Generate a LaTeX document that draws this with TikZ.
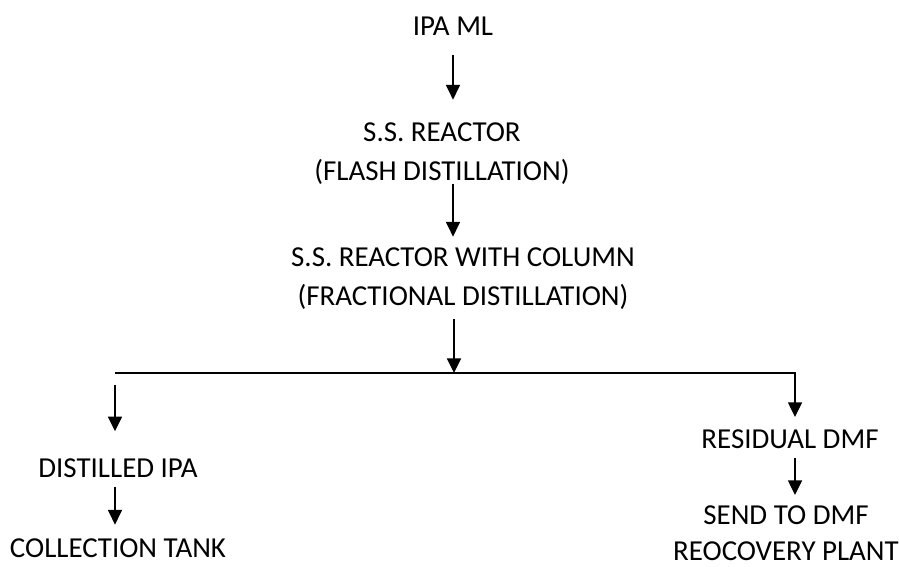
\documentclass[tikz,border=0pt]{standalone}
\usepackage{fontspec}
\setmainfont{Carlito}
\usetikzlibrary{arrows.meta}

\begin{document}
\begin{tikzpicture}[x=0.75pt,y=-0.75pt,
	txt/.style={inner sep=0pt,anchor=base,align=center,font=\fontsize{21.7}{29}\selectfont},
	flow/.style={line width=1.2pt,-{Triangle[length=11pt,width=10.5pt]}}]
				\useasboundingbox (0,0) rectangle (899,567);
				\coordinate (lft) at (115,373);%left branch
				\coordinate (rgt) at (795,373);%right branch
				\coordinate (mid) at (454,373);%junction
				
				\node[txt] (ipa) at (453,36) {IPA ML};
				\node[txt] (flash) at (442,180) {S.S. REACTOR\\(FLASH DISTILLATION)};
				\node[txt] (frac) at (463,305) {S.S. REACTOR WITH COLUMN\\(FRACTIONAL DISTILLATION)};
				\node[txt] (dist) at (118,477) {DISTILLED IPA};
				\node[txt] (coll) at (118,557) {COLLECTION TANK};
				\node[txt] (resid) at (790,448) {RESIDUAL DMF};
				\node[txt] (send) at (786,560) {SEND TO DMF\\[-2pt]REOCOVERY PLANT};
				
				\draw[flow,shorten <=14pt,shorten >=17pt] (ipa.south) to[] (ipa.south |- flash.north);
				\draw[flow,shorten <=0pt,shorten >=8pt] (ipa.south |- flash.south) to[] (ipa.south |- frac.north);
				\draw[flow,shorten <=7.5pt] (mid |- frac.south) to[] (mid);
				\draw[flow,shorten >=9pt] (lft) -- (rgt) -- (rgt |- resid.north);
				\draw[flow,shorten <=9pt,shorten >=20pt] (lft) to[] (lft |- dist.north);
				\draw[flow,shorten <=7pt,shorten >=10pt] (lft |- dist.south) to[] (lft |- coll.north);
				\draw[flow,shorten <=7pt,shorten >=7.5pt] (rgt |- resid.south) to[] (rgt |- send.north);
			\end{tikzpicture}
\end{document}
